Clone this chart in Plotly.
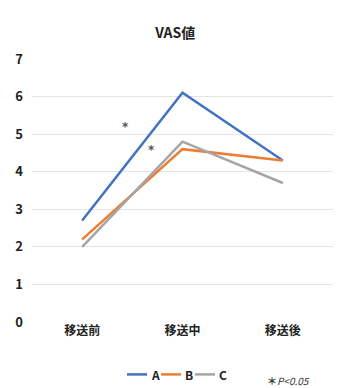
import plotly.graph_objects as go

# VAS scores at three transfer stages for three groups
stages = ["移送前", "移送中", "移送後"]
series_names = ["A", "B", "C"]
vas_a = [2.7, 6.1, 4.3]
vas_b = [2.2, 4.6, 4.3]
vas_c = [2.0, 4.8, 3.7]
y_ticks = [0, 1, 2, 3, 4, 5, 6, 7]

colors = ["#4472C4", "#ED7D31", "#A5A5A5"]
FONT = "Noto Sans CJK JP"

fig = go.Figure()
for name, vals, col in zip(series_names, [vas_a, vas_b, vas_c], colors):
    fig.add_trace(go.Scatter(
        x=list(range(len(stages))), y=vals, mode="lines", name=name,
        line=dict(color=col, width=2.5), showlegend=False,
    ))

# significance markers
for ax, ay in [(0.43, 5.2), (0.69, 4.57)]:
    fig.add_annotation(x=ax, y=ay, xref="x", yref="y", text="<b>*</b>", showarrow=False,
                       font=dict(family="DejaVu Sans", size=12, color="#555555"))

# compact legend row below the category labels (paper coords)
PLOT_W, PLOT_H = 301.0, 263.5
def px_x(px):
    return (px - 32) / PLOT_W
def px_y(py):
    return (322.5 - py) / PLOT_H

legend_y = px_y(375)
for i, (n, c) in enumerate(zip(series_names, colors)):
    x0 = 127 + i * 34
    fig.add_shape(type="line", xref="paper", yref="paper",
                  x0=px_x(x0), x1=px_x(x0 + 20), y0=legend_y, y1=legend_y,
                  line=dict(color=c, width=2.5))
    fig.add_annotation(x=px_x(x0 + 22), y=legend_y, xref="paper", yref="paper",
                       xanchor="left", yanchor="middle", text="<b>%s</b>" % n,
                       showarrow=False, font=dict(family=FONT, size=12, color="#222222"))

fig.add_annotation(x=px_x(312), y=px_y(381), xref="paper", yref="paper", xanchor="right",
                   yanchor="middle", text="<b>＊</b><i>P<0.05</i>", showarrow=False,
                   font=dict(family="Liberation Sans Narrow, " + FONT, size=10, color="#333333"))

fig.update_layout(
    width=337, height=388,
    margin=dict(l=32, r=4, t=59, b=65.5),
    paper_bgcolor="white", plot_bgcolor="white",
    title=dict(text="<b>VAS値</b>", x=0.52, xanchor="center", y=1 - 33 / 388, yanchor="middle",
               font=dict(family=FONT, size=14, color="#222222")),
    xaxis=dict(tickmode="array", tickvals=list(range(len(stages))),
               ticktext=["<b>%s</b>" % s for s in stages],
               range=[-0.5, 2.5], showgrid=False, zeroline=False, showline=False,
               ticks="", ticklen=0,
               tickfont=dict(family=FONT, size=12, color="#222222")),
    yaxis=dict(tickvals=y_ticks, ticktext=["<b>%d</b>" % t for t in y_ticks],
               range=[0, 7], showgrid=True, gridcolor="#E4E4E4", gridwidth=1,
               zeroline=False, showline=False, ticks="", ticklabelstandoff=8,
               tickfont=dict(family=FONT, size=13, color="#222222")),
    showlegend=False,
)

fig.write_html("out.html")
